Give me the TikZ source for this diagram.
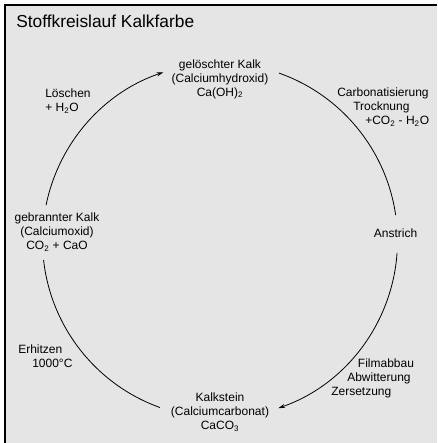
\documentclass[tikz,border=0pt]{standalone}
\usepackage{fontspec}
\setmainfont{Liberation Sans}
\usetikzlibrary{arrows.meta}
\definecolor{bggray}{gray}{0.9}

\begin{document}
\begin{tikzpicture}[x=0.75pt,y=0.75pt,
	stoff/.style={inner sep=0pt,align=center,font=\fontsize{9}{10.5}\selectfont},
	schritt/.style={inner sep=0pt,align=left,anchor=west,font=\fontsize{9}{10.5}\selectfont},
	kreis/.style={line width=0.6pt},
	pfeil/.style={kreis,-{Stealth[length=5pt,width=3pt]}}]
	\useasboundingbox (0,0) rectangle (437,443);
	\fill[bggray] (5,0) rectangle (437,438);
	\draw[line width=1pt] (5,0) -- (5,438) -- (437,438);
	\node[inner sep=0pt,anchor=base west,font=\fontsize{13}{15}\selectfont] (titel) at (16,415) {Stoffkreislauf Kalkfarbe};

	\coordinate (mitte) at (220,202.5);
	% Stoffe
	\node[stoff] (geloeschter-kalk) at (220,364) {gelöschter Kalk\\(Calciumhydroxid)\\Ca(OH)\textsubscript{2}};
	\node[stoff] (anstrich) at (395.5,210) {Anstrich};
	\node[stoff] (kalkstein) at (220,31) {Kalkstein\\(Calciumcarbonat)\\CaCO\textsubscript{3}};
	\node[stoff] (gebrannter-kalk) at (57,211) {gebrannter Kalk\\(Calciumoxid)\\CO\textsubscript{2} + CaO};
	% Schritte
	\node[schritt] (loeschen) at (45,342) {Löschen\\+ H\textsubscript{2}O};
	\node[schritt] (carbonatisierung) at (337,336) {Carbonatisierung\\\hspace*{12pt}Trocknung\\\hspace*{21pt}+CO\textsubscript{2} - H\textsubscript{2}O};
	\node[schritt] (filmabbau) at (331,65) {\hspace*{20pt}Filmabbau\\\hspace*{12pt}Abwitterung\\Zersetzung};
	\node[schritt] (erhitzen) at (18,87) {Erhitzen\\\hspace*{10.5pt}1000°C};

	% Kreislauf
	\draw[kreis] ([shift={(70.6:177.5)}]mitte) arc[start angle=70.6,end angle=8.2,radius=177.5];
	\draw[pfeil] ([shift={(-4:177.5)}]mitte) arc[start angle=-4,end angle=-70.8,radius=177.5];
	\draw[kreis] ([shift={(-109.8:177.5)}]mitte) arc[start angle=-109.8,end angle=-173.7,radius=177.5];
	\draw[pfeil] ([shift={(168.5:177.5)}]mitte) arc[start angle=168.5,end angle=108.6,radius=177.5];
\end{tikzpicture}
\end{document}
